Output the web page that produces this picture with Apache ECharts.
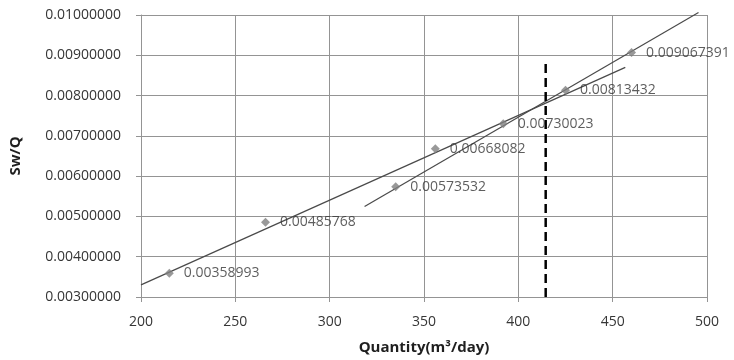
<!DOCTYPE html>
<html>
<head>
<meta charset="utf-8">
<script src="https://cdn.jsdelivr.net/npm/echarts@6/dist/echarts.min.js"></script>
<style>
  html, body { margin: 0; padding: 0; background: #fff; }
  #chart { width: 734px; height: 360px; }
</style>
</head>
<body>
<div id="chart"></div>
<script>
// measured points (Q in m3/day, Sw/Q)
const quantity = [215, 266, 335, 356, 392, 425, 460];
const swqLabels = ['0.00358993', '0.00485768', '0.00573532', '0.00668082', '0.00730023', '0.00813432', '0.009067391'];
const swq = swqLabels.map(Number);

// trend lines
const trendAll = [[200, 0.0033], [456.7, 0.0087]];
const trendUpper = [[318.5, 0.005245], [495.5, 0.01006]];
const cutoffQ = 414.5;
const cutoffLine = [[cutoffQ, 0.003], [cutoffQ, 0.00889]];

const xTicks = { min: 200, max: 500, step: 50 };
const yTicks = { min: 0.003, max: 0.01, step: 0.001 };

const font = '"Open Sans", "Liberation Sans", sans-serif';
const gridColor = '#949494';
const textColor = '#363636';

const chart = echarts.init(document.getElementById('chart'));

const option = {
  animation: false,
  backgroundColor: '#fff',
  grid: { left: 139, right: 27, top: 15, bottom: 62 },
  xAxis: {
    type: 'value',
    min: xTicks.min,
    max: xTicks.max,
    interval: xTicks.step,
    name: 'Quantity(m³/day)',
    nameLocation: 'middle',
    nameGap: 43,
    nameTextStyle: { fontFamily: font, fontSize: 15, fontWeight: 'bold', color: '#1f1f1f' },
    axisLine: { lineStyle: { color: gridColor, width: 1 } },
    axisTick: { show: true, length: 5, lineStyle: { color: gridColor } },
    axisLabel: { fontFamily: font, fontSize: 14, color: textColor, margin: 18 },
    splitLine: { show: true, lineStyle: { color: gridColor, width: 1 } }
  },
  yAxis: {
    type: 'value',
    min: yTicks.min,
    max: yTicks.max,
    interval: yTicks.step,
    name: 'Sw/Q',
    nameLocation: 'middle',
    nameGap: 118,
    nameRotate: 90,
    nameTextStyle: { fontFamily: font, fontSize: 15, fontWeight: 'bold', color: '#1f1f1f' },
    axisLine: { show: true, lineStyle: { color: gridColor, width: 1 } },
    axisTick: { show: true, length: 5, lineStyle: { color: gridColor } },
    axisLabel: {
      fontFamily: font, fontSize: 14, color: textColor, margin: 20,
      formatter: v => v.toFixed(8)
    },
    splitLine: { show: true, lineStyle: { color: gridColor, width: 1 } }
  },
  series: [
    {
      type: 'line',
      data: trendAll,
      symbol: 'none',
      lineStyle: { color: '#4a4a4a', width: 1.2 },
      z: 3
    },
    {
      type: 'line',
      data: trendUpper,
      symbol: 'none',
      clip: false,
      lineStyle: { color: '#4a4a4a', width: 1.2 },
      z: 3
    },
    {
      type: 'line',
      data: cutoffLine,
      symbol: 'none',
      lineStyle: { color: '#000', width: 2.5, type: [9, 5] },
      z: 4
    },
    {
      type: 'scatter',
      data: quantity.map((q, i) => [q, swq[i]]),
      symbol: 'diamond',
      symbolSize: 9,
      itemStyle: { color: '#7f7f7f' },
      label: {
        show: true,
        position: 'right',
        distance: 10,
        fontFamily: font,
        fontSize: 14,
        color: textColor,
        formatter: p => swqLabels[p.dataIndex]
      },
      z: 5
    }
  ]
};

chart.setOption(option);
</script>
</body>
</html>
